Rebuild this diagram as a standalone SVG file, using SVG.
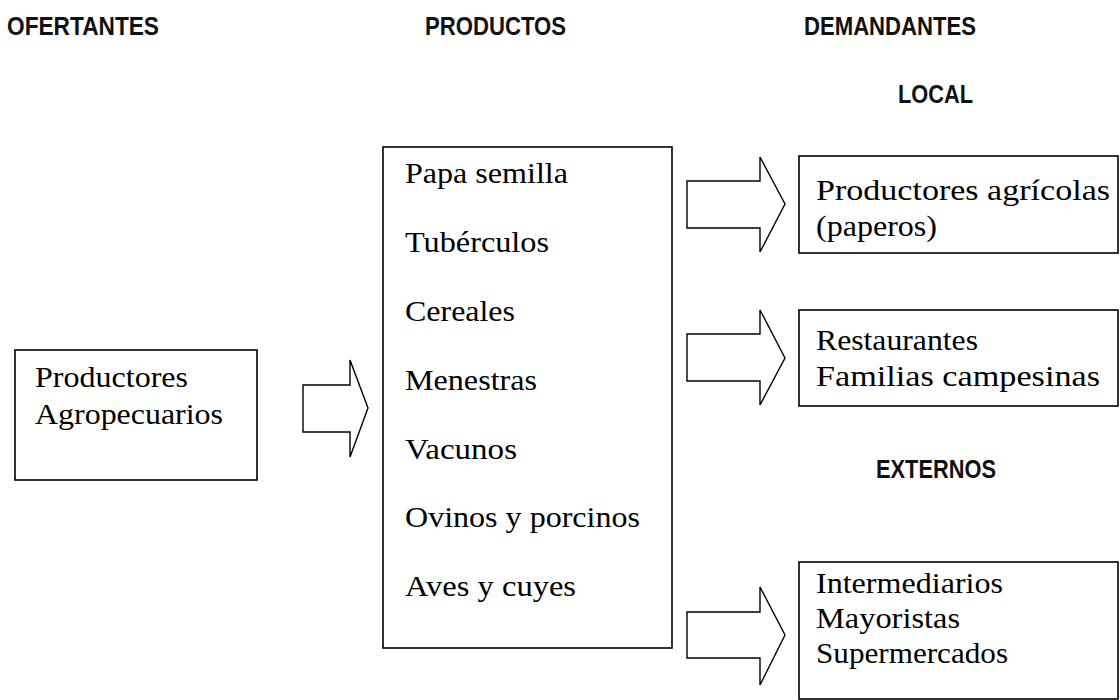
<svg xmlns="http://www.w3.org/2000/svg" width="1120" height="700" viewBox="0 0 1120 700">
<style>
.bg{fill:#fff}
.box{fill:#fff;stroke:#000;stroke-width:1.6}
.arr{fill:#fff;stroke:#000;stroke-width:1.4;stroke-linejoin:miter}
.hd{font-family:"Liberation Sans","DejaVu Sans",sans-serif;font-size:25px;font-weight:bold;fill:#111}
.tx{font-family:"Liberation Serif","Times New Roman",serif;font-size:30px;fill:#000}
</style>
<rect class="bg" x="0" y="0" width="1120" height="700"/>
<g id="headers">
<text class="hd" x="7" y="35" textLength="152" lengthAdjust="spacingAndGlyphs">OFERTANTES</text>
<text class="hd" x="425" y="35" textLength="141" lengthAdjust="spacingAndGlyphs">PRODUCTOS</text>
<text class="hd" x="804" y="35" textLength="172" lengthAdjust="spacingAndGlyphs">DEMANDANTES</text>
<text class="hd" x="898" y="103" textLength="75" lengthAdjust="spacingAndGlyphs">LOCAL</text>
<text class="hd" x="876" y="478" textLength="120" lengthAdjust="spacingAndGlyphs">EXTERNOS</text>
</g>
<g id="ofertantes">
<rect class="box" x="15" y="350" width="242" height="130"/>
<text class="tx" x="35" y="387" textLength="153" lengthAdjust="spacingAndGlyphs">Productores</text>
<text class="tx" x="35" y="424" textLength="188" lengthAdjust="spacingAndGlyphs">Agropecuarios</text>
</g>
<g id="productos">
<rect class="box" x="383" y="147" width="289" height="501"/>
<text class="tx" x="405" y="183" textLength="163" lengthAdjust="spacingAndGlyphs">Papa semilla</text>
<text class="tx" x="405" y="252" textLength="144" lengthAdjust="spacingAndGlyphs">Tubérculos</text>
<text class="tx" x="405" y="321" textLength="110" lengthAdjust="spacingAndGlyphs">Cereales</text>
<text class="tx" x="405" y="390" textLength="132" lengthAdjust="spacingAndGlyphs">Menestras</text>
<text class="tx" x="405" y="459" textLength="112" lengthAdjust="spacingAndGlyphs">Vacunos</text>
<text class="tx" x="405" y="527" textLength="235" lengthAdjust="spacingAndGlyphs">Ovinos y porcinos</text>
<text class="tx" x="405" y="596" textLength="171" lengthAdjust="spacingAndGlyphs">Aves y cuyes</text>
</g>
<g id="local1">
<rect class="box" x="799" y="156" width="319" height="97"/>
<text class="tx" x="816" y="200" textLength="294" lengthAdjust="spacingAndGlyphs">Productores agrícolas</text>
<text class="tx" x="816" y="236" textLength="121" lengthAdjust="spacingAndGlyphs">(paperos)</text>
</g>
<g id="local2">
<rect class="box" x="799" y="310" width="319" height="96"/>
<text class="tx" x="816" y="350" textLength="162" lengthAdjust="spacingAndGlyphs">Restaurantes</text>
<text class="tx" x="816" y="386" textLength="284" lengthAdjust="spacingAndGlyphs">Familias campesinas</text>
</g>
<g id="externos">
<rect class="box" x="799" y="562" width="319" height="137"/>
<text class="tx" x="816" y="593" textLength="187" lengthAdjust="spacingAndGlyphs">Intermediarios</text>
<text class="tx" x="816" y="628" textLength="144" lengthAdjust="spacingAndGlyphs">Mayoristas</text>
<text class="tx" x="816" y="663" textLength="192" lengthAdjust="spacingAndGlyphs">Supermercados</text>
</g>
<g id="connectors">
<polygon class="arr" points="303,385 350,385 350,360 368,408 350,457 350,432 303,432"/>
<polygon class="arr" points="687,181 760,181 760,157 785,204 760,252 760,228 687,228"/>
<polygon class="arr" points="687,334 760,334 760,310 785,358 760,405 760,381 687,381"/>
<polygon class="arr" points="687,612 760,612 760,587 785,635 760,685 760,658 687,658"/>
</g>
</svg>
